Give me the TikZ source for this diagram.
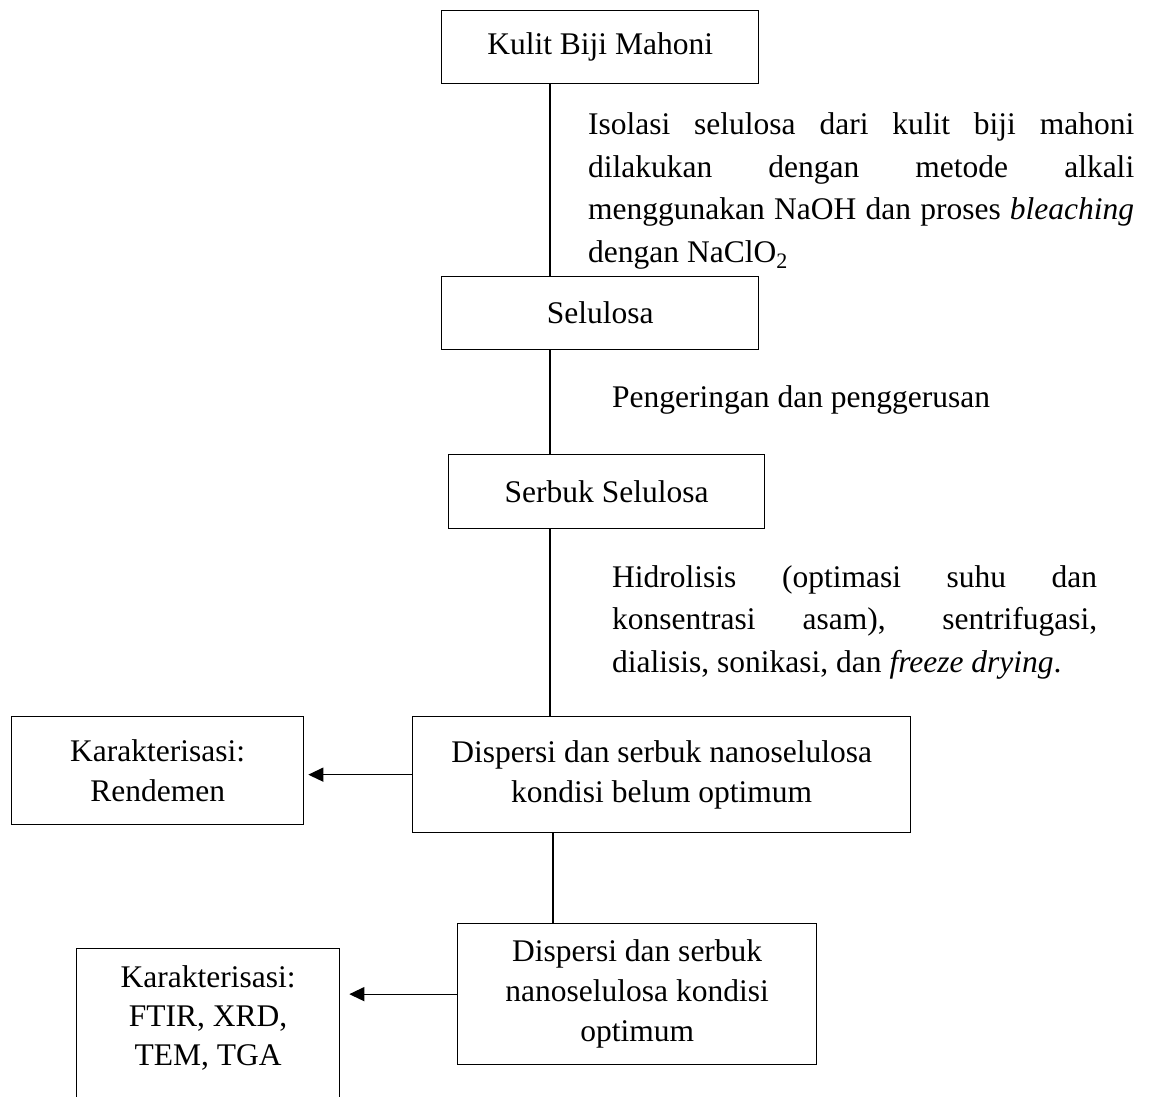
\documentclass[tikz,border=0pt]{standalone}
\usepackage{fontspec}
\setmainfont{Liberation Serif}
\usetikzlibrary{arrows.meta}
\tolerance=10000
\hbadness=10000
\tikzset{
  box/.style={draw, line width=1.3pt, anchor=north west, align=center, inner sep=0pt,
    font=\fontsize{31.5}{40}\selectfont},
  conn/.style={line width=1.3pt},
  arr/.style={line width=1.3pt, -{Triangle[length=15pt,width=14pt]}},
  note/.style={anchor=base west, inner sep=0pt, font=\fontsize{31.5}{42.5}\selectfont}
}
\begin{document}
\begin{tikzpicture}[x=1pt,y=-1pt]
\useasboundingbox (0,0) rectangle (1154,1097);
\clip (0,0) rectangle (1154,1097);
% boxes
\node[box, minimum width=317pt, minimum height=73pt] (k1) at (441,10) {Kulit Biji Mahoni};
\node[box, minimum width=317pt, minimum height=73pt] (s1) at (441,276) {Selulosa};
\node[box, minimum width=316pt, minimum height=74pt] (s2) at (448,454) {Serbuk Selulosa};
\node[box, minimum width=498pt, minimum height=116pt] (d1) at (412,716) {Dispersi dan serbuk nanoselulosa\\kondisi belum optimum};
\node[box, minimum width=292pt, minimum height=108pt] (r1) at (11,716) {Karakterisasi:\\Rendemen};
\node[box, minimum width=359pt, minimum height=141pt] (d2) at (457,923) {Dispersi dan serbuk\\nanoselulosa kondisi\\optimum};
\node[box, minimum width=263pt] (r2) at (76,948)
  {\parbox[t][200pt][t]{263pt}{\centering\fontsize{31.5}{39}\selectfont\rule{0pt}{39pt}Karakterisasi:\\FTIR, XRD,\\TEM, TGA}};
% process notes
\node[note] (t1) at (588,135) {\parbox[t]{546pt}{Isolasi selulosa dari kulit biji mahoni\linebreak dilakukan dengan metode alkali\linebreak menggunakan NaOH dan proses \textit{bleaching}\linebreak dengan NaClO\textsubscript{2}}};
\node[note] (t2) at (612,407) {Pengeringan dan penggerusan};
\node[note] (t3) at (612,587) {\parbox[t]{485pt}{Hidrolisis (optimasi suhu dan\linebreak konsentrasi asam), sentrifugasi,\linebreak dialisis, sonikasi, dan \textit{freeze drying}.}};
% connectors
\coordinate (sp) at (550,0);
\coordinate (sq) at (553,0);
\draw[conn] (sp |- k1.south) -- (sp |- s1.north);
\draw[conn] (sp |- s1.south) -- (sp |- s2.north);
\draw[conn] (sp |- s2.south) -- (sp |- d1.north);
\draw[conn] (sq |- d1.south) -- (sq |- d2.north);
\draw[arr, shorten >=4pt] (d1.west) -- (d1.west -| r1.east);
\draw[arr, shorten >=9pt] (d2.west) -- (d2.west -| r2.east);
\end{tikzpicture}
\end{document}
